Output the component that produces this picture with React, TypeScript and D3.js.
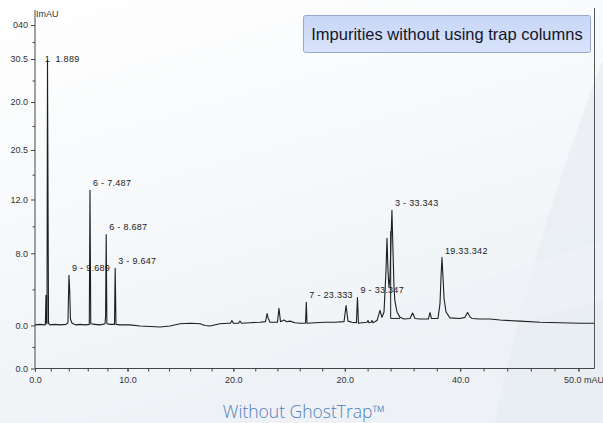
import React, { useEffect, useRef } from 'react';
import * as d3 from 'd3';

// chromatogram trace, [time, signal]
const trace: [number, number][] = [
  [0, 0.1], [0.7, 0.2], [1.32, 0.1], [1.37, 0.2], [1.44, 5.6], [1.5, 0.5], [1.56, 0.3],
  [1.62, 49.3], [1.74, 0.4], [1.91, 0.1], [2.49, 0.2], [3.04, 0.1], [3.7, 0.2], [3.91, 0.5],
  [4.02, 9.3], [4.1, 6.5], [4.18, 1.2], [4.35, 0.4], [4.77, 0.1], [5.19, 0.2], [5.71, 0.1],
  [6.16, 0.2], [6.23, 25.1], [6.31, 0.3], [6.74, 0.2], [7.25, 0.1], [7.76, 0.3], [7.82, 1.7],
  [7.88, 16.9], [7.95, 0.3], [8.26, 0.2], [8.71, 0.2], [8.78, 10.6], [8.86, 0.2], [9.26, 0.1],
  [10.24, 0.1], [11.22, -0.1], [12.18, -0.2], [13.14, -0.3], [14.1, -0.1], [15.05, 0.3],
  [15.99, 0.4], [16.92, 0.3], [17.39, 0.0], [17.85, -0.1], [18.77, 0.3], [19.5, 0.4],
  [19.74, 0.4], [19.87, 0.9], [20.0, 0.4], [20.47, 0.4], [20.61, 0.8], [20.75, 0.4],
  [21.52, 0.5], [22.43, 0.6], [22.93, 0.7], [23.07, 2.2], [23.16, 1.4], [23.34, 0.6],
  [24.01, 0.6], [24.14, 3.2], [24.28, 0.7], [24.59, 1.0], [24.86, 0.7], [25.13, 0.8],
  [25.58, 0.5], [26.03, 0.4], [26.47, 0.4], [26.52, 0.5], [26.59, 4.3], [26.65, 0.4],
  [27.36, 0.5], [28.25, 0.6], [29.14, 0.6], [29.93, 0.7], [30.11, 3.7], [30.28, 0.8],
  [30.63, 0.6], [31.02, 0.5], [31.11, 5.2], [31.2, 0.4], [31.5, 0.5], [31.95, 0.6],
  [32.03, 0.9], [32.12, 0.5], [32.3, 0.6], [32.38, 0.9], [32.47, 0.5], [32.82, 0.9],
  [33.08, 2.8], [33.25, 1.5], [33.43, 2.5], [33.6, 10.0], [33.69, 16.2], [33.78, 10.0],
  [33.86, 7.1], [33.95, 9.0], [34.04, 16.0], [34.12, 21.4], [34.21, 14.0], [34.3, 7.0],
  [34.38, 4.5], [34.56, 2.5], [34.82, 1.5], [35.17, 1.2], [35.69, 1.3], [35.91, 2.3],
  [36.12, 1.3], [36.55, 1.2], [37.28, 1.2], [37.41, 2.4], [37.54, 1.3], [38.1, 1.3],
  [38.27, 4.0], [38.36, 9.0], [38.44, 12.6], [38.53, 9.0], [38.62, 5.0], [38.79, 2.5],
  [39.13, 1.4], [39.99, 1.3], [40.41, 1.5], [40.63, 2.4], [40.84, 1.6], [41.0, 1.3],
  [41.7, 1.2], [42.55, 1.2], [43.4, 1.0], [45.09, 0.8], [46.78, 0.6], [48.46, 0.5],
  [50.13, 0.4], [51.3, 0.4],
];

// integration drop line under the big peak
const dropLine: [number, number][] = [[34.01, 17.5], [34.01, 1.3], [34.82, 1.3]];

const mainPeak = { t: 1.62, s: 49.3, num: '1', text: '1.889' };

const peakLabels = [
  { t: 4.02, s: 9.3, text: '9 - 9.689' },
  { t: 6.23, s: 25.1, text: '6 - 7.487' },
  { t: 7.88, s: 16.9, text: '6 - 8.687' },
  { t: 8.78, s: 10.6, text: '3 - 9.647' },
  { t: 26.59, s: 4.3, text: '7 - 23.333' },
  { t: 31.11, s: 5.2, text: '9 - 33.347' },
  { t: 34.12, s: 21.4, text: '3 - 33.343' },
  { t: 38.44, s: 12.6, text: '19.33.342' },
];

const yTickValues = [-8, 0, 13.4, 23.4, 32.6, 41.5, 49.5, 55.8];
const yTickLabels = ['0.0', '0.0', '8.0', '12.0', '20.5', '20.0', '30.5', '040'];
const xTickValues = [0, 10, 20, 30, 40, 50];
const xTickLabels = ['0.0', '10.0', '20.0', '20.0', '40.0', '50.0'];

const W = 603;
const H = 423;

const App = () => {
  const ref = useRef<SVGSVGElement>(null);

  useEffect(() => {
    const svg = d3.select(ref.current);
    svg.selectAll('*').remove();

    const x = d3.scalePow().exponent(1.1).domain([0, 51.3]).range([35, 594]);
    const y = d3.scaleLinear().domain([-8, 58.6]).range([368.5, 10]);

    // background
    const defs = svg.append('defs');
    const bg = defs.append('linearGradient').attr('id', 'bg')
      .attr('x1', 0).attr('y1', 0).attr('x2', 0.4).attr('y2', 1);
    bg.append('stop').attr('offset', '0%').attr('stop-color', '#ffffff');
    bg.append('stop').attr('offset', '100%').attr('stop-color', '#eef2f6');
    const box = defs.append('linearGradient').attr('id', 'box')
      .attr('x1', 0).attr('y1', 0).attr('x2', 0).attr('y2', 1);
    box.append('stop').attr('offset', '0%').attr('stop-color', '#c7d6f6');
    box.append('stop').attr('offset', '100%').attr('stop-color', '#d9e3fa');

    svg.append('rect').attr('width', W).attr('height', H).attr('fill', 'url(#bg)');
    svg.append('path')
      .attr('d', 'M603,60 C560,170 520,300 495,423 L603,423 Z')
      .attr('fill', '#e6ebf1').attr('opacity', 0.6);
    svg.append('path')
      .attr('d', 'M150,423 C300,330 420,300 603,240 L603,300 C450,340 330,380 260,423 Z')
      .attr('fill', '#eef1f5').attr('opacity', 0.7);

    // frame
    svg.append('line').attr('x1', 594.5).attr('x2', 594.5).attr('y1', 8).attr('y2', y(-8))
      .attr('stroke', '#555').attr('stroke-width', 1);

    // y axis
    const yAxis = svg.append('g').attr('transform', 'translate(35,0)')
      .call(d3.axisLeft(y).tickValues(yTickValues).tickFormat((d, i) => yTickLabels[i]).tickSize(4).tickPadding(3).tickSizeOuter(0));
    svg.append('g').attr('transform', 'translate(35,0)')
      .call(d3.axisLeft(y).tickValues(d3.pairs(yTickValues).map(([a, b]) => (a + b) / 2)).tickFormat(() => '').tickSize(2.5).tickSizeOuter(0))
      .select('.domain').remove();
    yAxis.select('.domain').attr('d', `M0,10V${y(-8)}`);

    // x axis
    const xAxis = svg.append('g').attr('transform', `translate(0,${y(-8)})`)
      .call(d3.axisBottom(x).tickValues(xTickValues).tickFormat((d, i) => xTickLabels[i]).tickSize(3).tickPadding(5).tickSizeOuter(0));
    svg.append('g').attr('transform', `translate(0,${y(-8)})`)
      .call(d3.axisBottom(x).tickValues(d3.range(0, 51.3, 2)).tickFormat(() => '').tickSize(3).tickSizeOuter(0))
      .select('.domain').remove();
    xAxis.select('.domain').attr('d', `M35,0H594.5`);
    xAxis.selectAll('.tick text').filter((d, i) => i === xTickValues.length - 1)
      .attr('text-anchor', 'start').attr('dx', -15).text('50.0 mAU');

    svg.selectAll('.tick line, .domain').attr('stroke', '#444');
    svg.selectAll('.tick text')
      .attr('font-family', '"Liberation Sans", Arial, sans-serif')
      .attr('font-size', 9).attr('fill', '#333');

    svg.append('text').attr('x', 36).attr('y', 17)
      .attr('font-family', '"Liberation Sans", Arial, sans-serif')
      .attr('font-size', 9).attr('fill', '#333').text('ImAU');

    // trace
    const line = d3.line<[number, number]>().x(d => x(d[0])).y(d => y(d[1]));
    svg.append('path').datum(trace)
      .attr('d', line).attr('fill', 'none').attr('stroke', '#1e1e1e')
      .attr('stroke-width', 1.1).attr('stroke-linejoin', 'round');
    svg.append('path').datum(dropLine)
      .attr('d', line).attr('fill', 'none').attr('stroke', '#1e1e1e').attr('stroke-width', 1);

    // peak labels
    const lab = svg.append('g')
      .attr('font-family', '"Liberation Sans", Arial, sans-serif')
      .attr('font-size', 9).attr('fill', '#222').attr('letter-spacing', 0.3);
    lab.selectAll('text.pl').data(peakLabels).enter().append('text')
      .attr('class', 'pl')
      .attr('x', d => x(d.t) + 3)
      .attr('y', d => y(d.s) - 4)
      .text(d => d.text);
    lab.append('text').attr('x', x(mainPeak.t)).attr('y', y(mainPeak.s) + 2)
      .attr('text-anchor', 'middle').text(mainPeak.num);
    lab.append('text').attr('x', x(mainPeak.t) + 8).attr('y', y(mainPeak.s) + 2)
      .text(mainPeak.text);

    // title box
    svg.append('rect').attr('x', 303.5).attr('y', 15.5).attr('width', 287).attr('height', 37)
      .attr('rx', 2).attr('fill', 'url(#box)').attr('stroke', '#9ba8cc').attr('stroke-width', 1);
    svg.append('text').attr('x', 447).attr('y', 40)
      .attr('text-anchor', 'middle')
      .attr('font-family', '"Liberation Sans", Arial, sans-serif')
      .attr('font-size', 16.5).attr('fill', '#15152a')
      .text('Impurities without using trap columns');

    svg.append('text').attr('x', 304).attr('y', 418)
      .attr('text-anchor', 'middle')
      .attr('font-family', '"Open Sans", sans-serif')
      .attr('font-weight', 300)
      .attr('font-size', 17.5).attr('fill', '#4f7fbf')
      .text('Without GhostTrap™');
  }, []);

  return (
    <svg ref={ref} width={W} height={H}
      style={{ position: 'absolute', left: 0, top: 0, display: 'block' }} />
  );
};

export default App;
